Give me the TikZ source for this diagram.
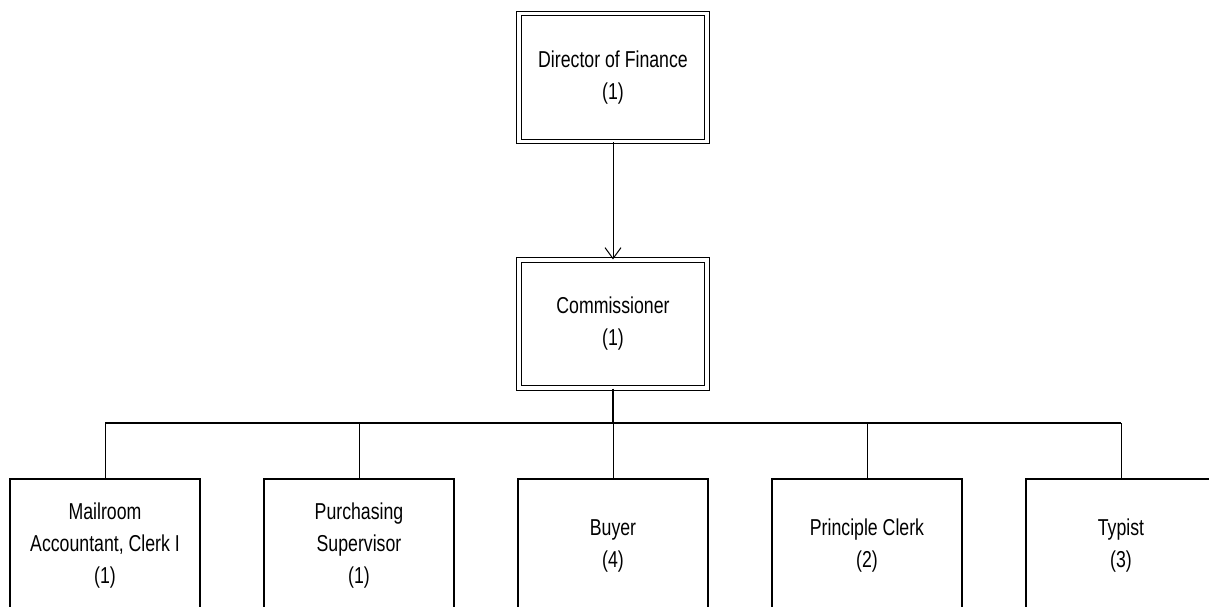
\documentclass[tikz,border=0pt]{standalone}
\usepackage{fontspec}
\setmainfont{Liberation Sans}[FakeStretch=0.77]
\usetikzlibrary{arrows.meta}
\begin{document}
\begin{tikzpicture}[x=1pt,y=-1pt,
  txt/.style={align=center,font=\fontsize{23}{32}\selectfont,inner sep=0pt},
  headbox/.style={txt,draw,line width=1.1pt,double=white,double distance=3.2pt,
    minimum width=188pt,minimum height=128pt},
  unitbox/.style={txt,draw,line width=1.2pt,minimum width=190pt,minimum height=134pt},
  link/.style={line width=0.9pt},
  bus/.style={line width=1.4pt}]
\clip (0,0) rectangle (1209,606);
\useasboundingbox (0,0) rectangle (1209,606);

% management boxes with double frames
\node[headbox] (dir) at (613,77.5) {Director of Finance\\(1)};
\node[headbox] (com) at (613,324) {Commissioner\\(1)};

% unit boxes along the bottom row
\node[unitbox] (mail) at (105,546) {Mailroom\\Accountant, Clerk I\\(1)};
\node[unitbox] (purch) at (359,546) {Purchasing\\Supervisor\\(1)};
\node[unitbox] (buyer) at (613,546) {Buyer\\(4)};
\node[unitbox] (clerk) at (867,546) {Principle Clerk\\(2)};
\node[unitbox] (typist) at (1121,546) {Typist\\(3)};

\coordinate (hub) at (613,423);

\draw[link,-{Straight Barb[length=11pt,width=16pt,line width=1pt]}] (dir.south) -- (com.north);
\draw[line width=1.8pt] (com.south) -- (hub);
\draw[bus] (mail.north |- hub) -- (typist.north |- hub);
\foreach \n in {mail,purch,buyer,clerk,typist}
  \draw[link] (\n.north |- hub) -- (\n.north);
\end{tikzpicture}
\end{document}
